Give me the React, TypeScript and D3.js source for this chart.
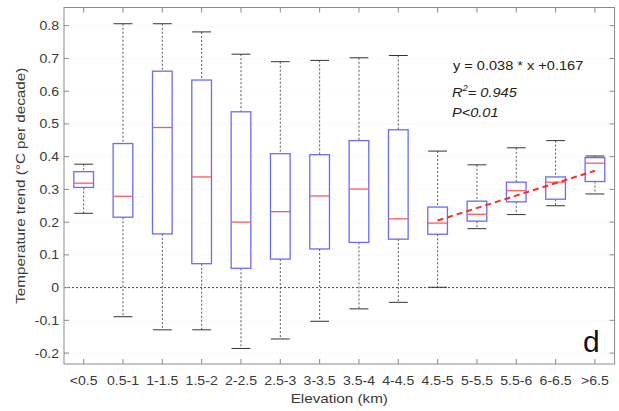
import React from "react";
import * as d3 from "d3";

const categories = ["<0.5", "0.5-1", "1-1.5", "1.5-2", "2-2.5", "2.5-3", "3-3.5", "3.5-4", "4-4.5", "4.5-5", "5-5.5", "5.5-6", "6-6.5", ">6.5"];
const whiskerLow = [0.227, -0.089, -0.129, -0.129, -0.186, -0.157, -0.103, -0.065, -0.045, 0.001, 0.18, 0.223, 0.25, 0.286];
const q1 = [0.306, 0.215, 0.164, 0.073, 0.059, 0.087, 0.118, 0.138, 0.148, 0.163, 0.203, 0.262, 0.27, 0.324];
const medians = [0.319, 0.279, 0.489, 0.338, 0.2, 0.232, 0.28, 0.301, 0.21, 0.197, 0.224, 0.296, 0.322, 0.38];
const q3 = [0.354, 0.44, 0.661, 0.634, 0.537, 0.409, 0.406, 0.449, 0.482, 0.246, 0.264, 0.322, 0.338, 0.397];
const whiskerHigh = [0.377, 0.806, 0.806, 0.781, 0.713, 0.69, 0.694, 0.702, 0.709, 0.417, 0.375, 0.427, 0.449, 0.402];
const yTicks = [-0.2, -0.1, 0, 0.1, 0.2, 0.3, 0.4, 0.5, 0.6, 0.7, 0.8];
const fitCategories = ["4.5-5", ">6.5"];
const fitValues = [0.205, 0.357];

const W = 619, H = 411;
const L = 64, R = 614.6, T = 7.5, B = 364;
const FONT = "'Liberation Sans', Arial, sans-serif";
const SX = 1.12;

function Txt(props: { x: number; y: number; rotate?: number; size: number; anchor?: string; fill?: string; italic?: boolean; dy?: string; children: React.ReactNode }) {
  const { x, y, rotate = 0, size, anchor = "start", fill = "#3a3a3a", italic = false, dy, children } = props;
  return (
    <g transform={`translate(${x},${y}) rotate(${rotate}) scale(${SX},1)`}>
      <text x={0} y={0} dy={dy} fontSize={size} textAnchor={anchor} fill={fill} fontStyle={italic ? "italic" : "normal"}>{children}</text>
    </g>
  );
}

export default function App() {
  const x = d3.scalePoint<string>().domain(categories).range([L, R]).padding(0.5);
  const y = d3.scaleLinear().domain([-0.2334, 0.8556]).range([B, T]);
  const step = x.step();
  const bw = step * 0.5;
  const cap = step * 0.24;
  const axisColor = "#8a8a8a";
  const line = d3.line<number>().x((_, i) => x(fitCategories[i])!).y(v => y(v));

  return (
    <svg width={W} height={H} style={{ position: "absolute", left: 0, top: 0, background: "#fff" }} fontFamily={FONT}>
      <rect x={0} y={0} width={W} height={H} fill="#fff" />
      {yTicks.map(t => (
        <line key={"g" + t} x1={L} x2={R} y1={y(t)} y2={y(t)} stroke="#ededed" strokeDasharray="1,3" />
      ))}
      <line x1={L} x2={R} y1={y(0)} y2={y(0)} stroke="#333" strokeWidth={0.9} strokeDasharray="2,2" />
      {categories.map((c, i) => {
        const cx = x(c)!;
        return (
          <g key={c}>
            <line x1={cx} x2={cx} y1={y(whiskerHigh[i])} y2={y(q3[i])} stroke="#444" strokeWidth={0.9} strokeDasharray="2,2" />
            <line x1={cx} x2={cx} y1={y(q1[i])} y2={y(whiskerLow[i])} stroke="#444" strokeWidth={0.9} strokeDasharray="2,2" />
            <line x1={cx - cap} x2={cx + cap} y1={y(whiskerHigh[i])} y2={y(whiskerHigh[i])} stroke="#333" strokeWidth={1} />
            <line x1={cx - cap} x2={cx + cap} y1={y(whiskerLow[i])} y2={y(whiskerLow[i])} stroke="#333" strokeWidth={1} />
            <rect x={cx - bw / 2} y={y(q3[i])} width={bw} height={y(q1[i]) - y(q3[i])} fill="none" stroke="#6a6aff" strokeWidth={1.3} />
            <line x1={cx - bw / 2} x2={cx + bw / 2} y1={y(medians[i])} y2={y(medians[i])} stroke="#ff5a5a" strokeWidth={1.3} />
          </g>
        );
      })}
      <path d={line(fitValues)!} fill="none" stroke="#ff2a2a" strokeWidth={2} strokeDasharray="6,4" />
      <rect x={L} y={T} width={R - L} height={B - T} fill="none" stroke={axisColor} strokeWidth={1} />
      {categories.map(c => (
        <g key={"t" + c}>
          <line x1={x(c)} x2={x(c)} y1={B} y2={B - 5} stroke={axisColor} />
          <line x1={x(c)} x2={x(c)} y1={T} y2={T + 5} stroke={axisColor} />
          <Txt x={x(c)!} y={385} size={12.6} anchor="middle">{c}</Txt>
        </g>
      ))}
      {yTicks.map(t => (
        <g key={"y" + t}>
          <line x1={L} x2={L + 5} y1={y(t)} y2={y(t)} stroke={axisColor} />
          <line x1={R} x2={R - 5} y1={y(t)} y2={y(t)} stroke={axisColor} />
          <Txt x={59} y={y(t)} dy="0.36em" size={12.6} anchor="end">{String(t)}</Txt>
        </g>
      ))}
      <Txt x={(L + R) / 2} y={403} size={13.6} anchor="middle">Elevation (km)</Txt>
      <Txt x={24.5} y={(T + B) / 2} rotate={-90} size={13.6} anchor="middle">Temperature trend (°C per decade)</Txt>
      <Txt x={453} y={70} size={13} fill="#222">y = 0.038 * x +0.167</Txt>
      <Txt x={452} y={96.5} size={13} fill="#222" italic>R<tspan dy={-5.5} fontSize={8.5}>2</tspan><tspan dy={5.5}>= 0.945</tspan></Txt>
      <Txt x={452} y={116.5} size={13} fill="#222" italic>P&lt;0.01</Txt>
      <text x={583} y={351.5} fontSize={30} fill="#111">d</text>
    </svg>
  );
}
